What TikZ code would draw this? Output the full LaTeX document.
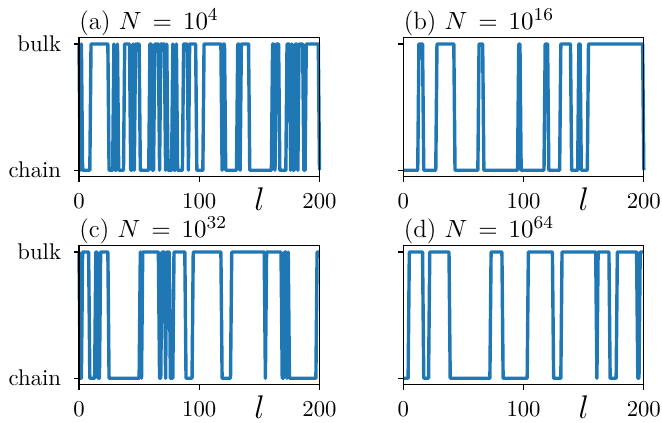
\documentclass[tikz,border=0pt]{standalone}
\usepackage{xcolor}
\definecolor{mplblue}{HTML}{1F77B4}
\newcommand\buildsteps[2]{%
  \xdef\stepval{#1}%
  \xdef\stepacc{(0,#1)}%
  \foreach \t in {#2}{%
    \pgfmathtruncatemacro\tn{\t+1}%
    \pgfmathtruncatemacro\nv{1-\stepval}%
    \xdef\stepacc{\stepacc (\t,\stepval) (\tn,\nv)}%
    \xdef\stepval{\nv}%
  }%
  \xdef\stepacc{\stepacc (200,\stepval)}%
}
\newcommand\panel[8]{% #1 id, #2 left, #3 top, #4 letter, #5 exponent, #6 ylabels, #7 start value, #8 transitions
  \pgfmathsetmacro\pnL{#2}%
  \pgfmathsetmacro\pnT{#3}%
  \pgfmathsetmacro\pnR{#2+240.5}%
  \pgfmathsetmacro\pnB{#3+138.8}%
  \pgfmathsetmacro\pnM{#2+120.25}%
  \pgfmathsetmacro\yBulk{#3+6.3}%
  \pgfmathsetmacro\yChain{#3+132.5}%
  \begin{scope}[shift={(\pnL,\yChain)},x={(0.5291pt,0pt)},y={(0pt,55.53pt)}]
    \buildsteps{#7}{#8}%
    \edef\tmpdraw{\noexpand\draw[dataline] plot coordinates {\stepacc};}\tmpdraw
  \end{scope}
  \draw[frame] (\pnL,\pnT) rectangle (\pnR,\pnB);
  \draw[tickmark] (\pnL,\yBulk) -- ++(-5.5,0);
  \draw[tickmark] (\pnL,\yChain) -- ++(-5.5,0);
  \ifnum#6=1
    \node[ticklabel,anchor=east] (#1-bulk) at (\pnL-17.5,\yBulk) {bulk};
    \node[ticklabel,anchor=east] (#1-chain) at (\pnL-17.5,\yChain) {chain};
  \fi
  \draw[tickmark] (\pnL,\pnB) -- ++(0,5.5);
  \draw[tickmark] (\pnM,\pnB) -- ++(0,5.5);
  \draw[tickmark] (\pnR,\pnB) -- ++(0,5.5);
  \node[ticklabel,anchor=base] (#1-x0) at (\pnL,\pnB+32) {0};
  \node[ticklabel,anchor=base] (#1-x100) at (\pnM,\pnB+32) {100};
  \node[ticklabel,anchor=base] (#1-x200) at (\pnR,\pnB+32) {200};
  \node[axlabel,anchor=base] (#1-xlabel) at (\pnL+180.5,\pnB+33.5) {$l$};
  \node[titlelabel,anchor=base west] (#1-title) at (\pnL,\pnT-8.2) {(#4) $N\,=\,10^{#5}$};
}
\begin{document}
\begin{tikzpicture}[x=0.44pt,y=-0.44pt,
  frame/.style={draw=black,line width=0.5pt},
  tickmark/.style={draw=black,line width=0.5pt},
  dataline/.style={draw=mplblue,line width=1.5pt,line join=round},
  ticklabel/.style={inner sep=0pt,font=\fontsize{10}{12}\selectfont},
  axlabel/.style={inner sep=0pt,font=\fontsize{14.4}{16}\selectfont},
  titlelabel/.style={inner sep=0pt,font=\fontsize{11}{13}\selectfont}]
\useasboundingbox (0,0) rectangle (662,422);
\panel{a}{79}{37.7}{a}{4}{1}{1}{0,1,2,9,24,28,29,31,32,37,42,44,45,46,50,58,60,62,66,67,71,72,73,77,78,80,81,86,90,91,97,103,118,119,121,131,133,134,141,160,162,163,166,172,175,176,177,179,181,182,186,188,199}
\panel{b}{403.3}{37.7}{b}{16}{0}{0}{12,16,27,42,62,66,95,97,117,120,130,139,145,147,153,199}
\panel{c}{79}{245.7}{c}{32}{1}{1}{0,2,8,13,15,17,24,50,51,52,66,68,71,72,75,78,88,94,118,126,154,155,168,170,172,173,174,197}
\panel{d}{403.3}{245.7}{d}{64}{0}{0}{4,16,21,38,72,82,103,124,131,160,161,171,177,194,196}
\end{tikzpicture}
\end{document}
